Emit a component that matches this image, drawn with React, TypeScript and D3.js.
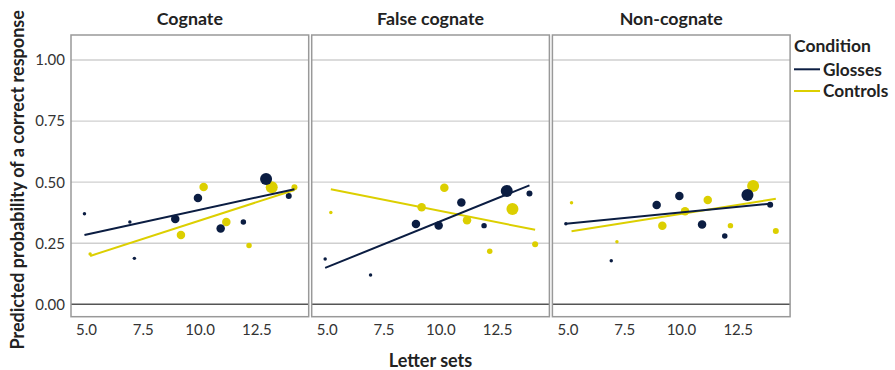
import React from "react";
import * as d3 from "d3";

const panels = ["Cognate", "False cognate", "Non-cognate"];
const conditions = ["Glosses", "Controls"];
const conditionColors = ["#0b1d42", "#dccf00"];
const letterSets = [5, 7, 9, 10, 11, 12, 13, 14];
const itemCounts = [2, 2, 12, 12, 12, 5, 24, 6];
const cognateGlosses = [0.371, 0.337, 0.349, 0.435, 0.31, 0.337, 0.513, 0.443];
const cognateControls = [0.206, null, 0.284, 0.48, 0.337, 0.241, 0.479, 0.479];
const falseCognateGlosses = [0.185, 0.12, 0.329, 0.323, 0.417, 0.322, 0.464, 0.454];
const falseCognateControls = [0.376, null, 0.397, 0.477, 0.344, 0.217, 0.39, 0.246];
const nonCognateGlosses = [0.33, 0.178, 0.406, 0.443, 0.327, 0.28, 0.447, 0.408];
const nonCognateControls = [0.416, 0.256, 0.322, 0.381, 0.427, 0.322, 0.484, 0.3];
const extraPoints = [{ panel: 0, condition: 0, x: 7.2, y: 0.188, n: 2 }];
// fitted lines per panel: [xStart, yStart, xEnd, yEnd]
const fitGlosses = [
  [5, 0.284, 14.25, 0.471],
  [5, 0.149, 14, 0.487],
  [5, 0.33, 14, 0.412],
];
const fitControls = [
  [5, 0.198, 14, 0.468],
  [5, 0.471, 14, 0.305],
  [5, 0.299, 14, 0.432],
];
const yTicks = [0, 0.25, 0.5, 0.75, 1];
const xTicks = [5, 7.5, 10, 12.5];
const dodge = [-0.05, 0.2];

const seriesValues = [
  [cognateGlosses, cognateControls],
  [falseCognateGlosses, falseCognateControls],
  [nonCognateGlosses, nonCognateControls],
];
const fits = [fitGlosses, fitControls];

const FONT = "Lato, 'Open Sans', sans-serif";
const W = 237.7;
const GAP = 3;
const LEFT0 = 71;
const TOP = 35;
const BOTTOM = 316.7;

export default function App() {
  const pxPerUnit = 22.7;
  const x = d3.scaleLinear().domain([4.357, 4.357 + W / pxPerUnit]).range([0, W]);
  const y = d3.scaleLinear().domain([0, 1]).range([304.3, 60]);
  const r = d3.scaleSqrt().domain([0, 24]).range([0, 6]);
  const line = d3
    .line<[number, number]>()
    .x((d) => d[0])
    .y((d) => d[1]);

  return (
    <svg
      width={895}
      height={370}
      style={{ position: "absolute", left: 0, top: 0, background: "#fff" }}
      fontFamily={FONT}
    >
      {/* y axis title */}
      <text
        transform={`translate(24,${(TOP + BOTTOM) / 2 + 4}) rotate(-90)`}
        textAnchor="middle"
        fontSize={18}
        fontWeight={700}
        fill="#222"
      >
        Predicted probability of a correct response
      </text>
      {yTicks.map((t) => (
        <text
          key={t}
          x={65}
          y={y(t)}
          dy="0.36em"
          textAnchor="end"
          fontSize={15}
          fill="#333"
        >
          {d3.format(".2f")(t)}
        </text>
      ))}
      {panels.map((name, pi) => {
        const left = LEFT0 + pi * (W + GAP);
        return (
          <g key={name} transform={`translate(${left},0)`}>
            <text
              x={W / 2}
              y={25}
              textAnchor="middle"
              fontSize={17.8}
              fontWeight={700}
              fill="#222"
            >
              {name}
            </text>
            <rect x={0} y={TOP} width={W} height={BOTTOM - TOP} fill="#fff" />
            {yTicks.map((t) => (
              <line
                key={t}
                x1={0}
                x2={W}
                y1={y(t)}
                y2={y(t)}
                stroke={t === 0 ? "#555" : "#cfcfcf"}
                strokeWidth={t === 0 ? 1.4 : 1.3}
              />
            ))}
            {[0, 1].map((ci) => {
              const vals = seriesValues[pi][ci];
              const pts = letterSets
                .map((ls, i) => ({ x: ls, y: vals[i], n: itemCounts[i] }))
                .filter((d) => d.y !== null) as { x: number; y: number; n: number }[];
              extraPoints
                .filter((e) => e.panel === pi && e.condition === ci)
                .forEach((e) => pts.push({ x: e.x, y: e.y, n: e.n }));
              return { ci, pts };
            })
              .reverse()
              .map(({ ci, pts }) => (
                <g key={ci}>
                  {pts.map((d, i) => (
                    <circle
                      key={i}
                      cx={x(d.x + dodge[ci])}
                      cy={y(d.y)}
                      r={r(d.n)}
                      fill={conditionColors[ci]}
                    />
                  ))}
                </g>
              ))}
            {[1, 0].map((ci) => {
              const f = fits[ci][pi];
              return (
                <path
                  key={ci}
                  d={
                    line([
                      [x(f[0] + dodge[ci]), y(f[1])],
                      [x(f[2] + dodge[ci]), y(f[3])],
                    ]) || ""
                  }
                  stroke={conditionColors[ci]}
                  strokeWidth={2}
                  fill="none"
                />
              );
            })}
            <rect
              x={0}
              y={TOP}
              width={W}
              height={BOTTOM - TOP}
              fill="none"
              stroke="#999"
              strokeWidth={1.5}
            />
            {xTicks.map((t) => (
              <text
                key={t}
                x={x(t) + 1}
                y={335}
                textAnchor="middle"
                fontSize={15}
                fill="#333"
              >
                {d3.format(".1f")(t)}
              </text>
            ))}
          </g>
        );
      })}
      <text
        x={LEFT0 + (3 * W + 2 * GAP) / 2}
        y={367}
        textAnchor="middle"
        fontSize={18}
        fontWeight={700}
        fill="#222"
      >
        Letter sets
      </text>
      {/* legend */}
      <text x={794} y={52} fontSize={17.5} fontWeight={700} fill="#222">
        Condition
      </text>
      {conditions.map((c, i) => (
        <g key={c} transform={`translate(0,${69.3 + i * 21.7})`}>
          <line x1={794} x2={820} y1={0} y2={0} stroke={conditionColors[i]} strokeWidth={2} />
          <text x={823} y={0} dy="0.36em" fontSize={17.3} fontWeight={700} fill="#222">
            {c}
          </text>
        </g>
      ))}
    </svg>
  );
}
